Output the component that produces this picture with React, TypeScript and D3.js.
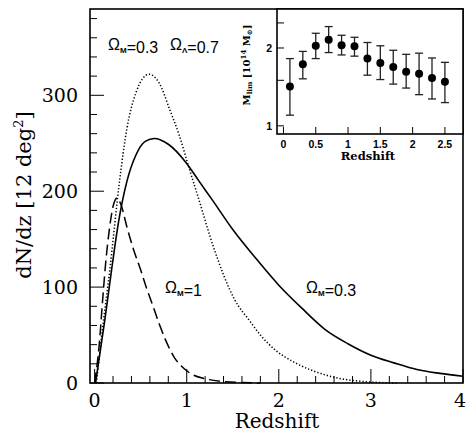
import React from "react";
import * as d3 from "d3";

// dN/dz curves: [redshift, dN/dz]
const lcdmCurve: [number, number][] = [
  [0.01, 0], [0.11, 65], [0.19, 122], [0.26, 168], [0.35, 210], [0.45, 238],
  [0.55, 252], [0.65, 255], [0.8, 249], [1.0, 229], [1.13, 211], [1.27, 192],
  [1.5, 160], [1.75, 130], [2.0, 102], [2.25, 78], [2.5, 56], [2.75, 41],
  [3.0, 29], [3.25, 21], [3.5, 14], [3.75, 10], [4.0, 7],
];
const lcdmAltCurve: [number, number][] = [
  [0.02, 0], [0.09, 60], [0.165, 118], [0.27, 210], [0.35, 265], [0.45, 303],
  [0.59, 322], [0.7, 313], [0.82, 284], [0.92, 258], [1.02, 226], [1.13, 192],
  [1.29, 142], [1.52, 87], [1.69, 64], [1.8, 50], [1.98, 33], [2.16, 22],
  [2.52, 8], [3.0, 1], [3.3, 0],
];
const scdmCurve: [number, number][] = [
  [0, 0], [0.05, 40], [0.09, 90], [0.12, 125], [0.16, 160], [0.2, 184],
  [0.245, 193], [0.29, 185], [0.35, 163], [0.42, 140], [0.5, 118], [0.56, 100],
  [0.62, 84], [0.7, 62], [0.77, 45], [0.87, 26], [0.95, 17], [1.04, 10],
  [1.22, 4], [1.4, 1.5], [1.6, 0.5], [1.8, 0],
];

const xTickLabels = [0, 1, 2, 3, 4];
const yTickLabels = [0, 100, 200, 300];

// inset: limiting mass vs redshift
const massZ = [0.1, 0.3, 0.5, 0.7, 0.9, 1.1, 1.3, 1.5, 1.7, 1.9, 2.1, 2.3, 2.5];
const massMid = [1.42, 1.73, 2.04, 2.15, 2.05, 2.03, 1.82, 1.75, 1.69, 1.62, 1.59, 1.53, 1.48];
const massHi = [1.82, 1.94, 2.28, 2.42, 2.24, 2.2, 2.1, 2.04, 1.96, 1.89, 1.91, 1.83, 1.76];
const massLo = [1.1, 1.52, 1.82, 1.92, 1.88, 1.86, 1.57, 1.51, 1.45, 1.4, 1.32, 1.27, 1.23];
const insetXTicks = [0, 0.5, 1, 1.5, 2, 2.5];
const insetYTicks = [1, 1.5, 2, 2.5];
const insetYLabels = [1, 2];

const W = 467;
const H = 436;
const serif = "'DejaVu Serif', serif";
const sans = "'Liberation Sans', Arial, sans-serif";

export default function App() {
  const x = d3.scaleLinear().domain([-0.05, 4]).range([90, 463]);
  const y = d3.scaleLinear().domain([0, 390]).range([383, 9]);

  const xi = d3.scaleLinear().domain([-0.1, 2.78]).range([277, 463]);
  const yi = d3.scaleLog().domain([0.93, 2.83]).range([134, 9]);

  const line = d3
    .line<[number, number]>()
    .x((d) => x(d[0]))
    .y((d) => y(d[1]))
    .curve(d3.curveMonotoneX);

  const xMinor = d3.range(0, 4.01, 0.2);
  const yMinor = d3.range(0, 381, 20);

  const sub = (s: string, size = 8) => (
    <>
      <tspan fontSize={size} dy={3} fontWeight="bold">{s}</tspan>
      <tspan dy={-3}></tspan>
    </>
  );

  return (
    <svg
      width={W}
      height={H}
      viewBox={`0 0 ${W} ${H}`}
      style={{ position: "absolute", left: 0, top: 0, background: "#fff" }}
    >
      <rect width={W} height={H} fill="#fff" />

      {/* curves */}
      <g fill="none" stroke="#000">
        <path d={line(lcdmCurve) || ""} strokeWidth={1.6} />
        <path d={line(lcdmAltCurve) || ""} strokeWidth={1.5} strokeDasharray="1.3,2" />
        <path d={line(scdmCurve) || ""} strokeWidth={1.5} strokeDasharray="11,5" />
      </g>

      {/* main ticks */}
      <g stroke="#000" strokeWidth={1}>
        {xMinor.map((t) => {
          const major = Math.abs(t - Math.round(t)) < 1e-6;
          return (
            <line key={"xm" + t} x1={x(t)} x2={x(t)} y1={y(0)} y2={y(0) - (major ? 14 : 7)} />
          );
        })}
        {yMinor.map((t) => {
          const major = t % 100 === 0;
          return (
            <line key={"ym" + t} x1={x.range()[0]} x2={x.range()[0] + (major ? 14 : 7)} y1={y(t)} y2={y(t)} />
          );
        })}
      </g>

      {/* main frame */}
      <rect
        x={x.range()[0]}
        y={y.range()[1]}
        width={x.range()[1] - x.range()[0]}
        height={y.range()[0] - y.range()[1]}
        fill="none"
        stroke="#000"
        strokeWidth={1.6}
      />

      {/* main tick labels */}
      <g fontFamily={serif} fontSize={19} fill="#000">
        {xTickLabels.map((t) => (
          <text key={"xl" + t} x={Math.min(x(t), 460)} y={407} textAnchor="middle">{t}</text>
        ))}
        {yTickLabels.map((t) => (
          <text key={"yl" + t} x={78} y={y(t) + 7} textAnchor="end">{t}</text>
        ))}
      </g>
      <text x={277} y={428} textAnchor="middle" fontFamily={serif} fontSize={20}>Redshift</text>
      <text
        transform="translate(31,195) rotate(-90)"
        textAnchor="middle"
        fontFamily={serif}
        fontSize={21}
      >
        dN/dz [12 deg<tspan fontSize={13} dy={-8}>2</tspan><tspan dy={8}>]</tspan>
      </text>

      {/* annotations */}
      <g fontFamily={sans} fontSize={16} fill="#000">
        <text x={108} y={50}>Ω{sub("M")}=0.3</text>
        <text x={170} y={50}>Ω{sub("Λ")}=0.7</text>
        <text x={165} y={293}>Ω{sub("M")}=1</text>
        <text x={306} y={293}>Ω{sub("M")}=0.3</text>
      </g>

      {/* inset */}
      <rect
        x={xi.range()[0]}
        y={yi.range()[1]}
        width={xi.range()[1] - xi.range()[0]}
        height={yi.range()[0] - yi.range()[1]}
        fill="#fff"
        stroke="#000"
        strokeWidth={1.6}
      />
      <g stroke="#000" strokeWidth={1}>
        {insetXTicks.map((t) => (
          <line key={"ixt" + t} x1={xi(t)} x2={xi(t)} y1={yi.range()[0]} y2={yi.range()[0] - 7} />
        ))}
        {insetYTicks.map((t) => (
          <line key={"iyt" + t} x1={xi.range()[0]} x2={xi.range()[0] + 7} y1={yi(t)} y2={yi(t)} />
        ))}
      </g>
      <g stroke="#222" strokeWidth={1.3}>
        {massZ.map((z, i) => (
          <g key={"eb" + z}>
            <line x1={xi(z)} x2={xi(z)} y1={yi(massHi[i])} y2={yi(massLo[i])} />
            <line x1={xi(z) - 4} x2={xi(z) + 4} y1={yi(massHi[i])} y2={yi(massHi[i])} />
            <line x1={xi(z) - 4} x2={xi(z) + 4} y1={yi(massLo[i])} y2={yi(massLo[i])} />
          </g>
        ))}
      </g>
      <g fill="#000">
        {massZ.map((z, i) => (
          <circle key={"pt" + z} cx={xi(z)} cy={yi(massMid[i])} r={4} />
        ))}
      </g>
      <g fontFamily={sans} fontSize={10.5} fontWeight="bold" fill="#000">
        {insetXTicks.map((t) => (
          <text key={"ixl" + t} x={xi(t)} y={148} textAnchor="middle">{t}</text>
        ))}
        {insetYLabels.map((t) => (
          <text key={"iyl" + t} x={272} y={yi(t) + 4} textAnchor="end">{t}</text>
        ))}
      </g>
      <text x={368} y={160} textAnchor="middle" fontFamily={serif} fontSize={11.5} fontWeight="bold">
        Redshift
      </text>
      <text
        transform="translate(250,65) rotate(-90)"
        textAnchor="middle"
        fontFamily={serif}
        fontSize={10}
        fontWeight="bold"
      >
        M<tspan fontSize={7} dy={2}>lim</tspan>
        <tspan dy={-2}> [10</tspan>
        <tspan fontSize={7} dy={-4}>14</tspan>
        <tspan dy={4}> M</tspan>
        <tspan fontSize={7} dy={2}>⊙</tspan>
        <tspan dy={-2}>]</tspan>
      </text>
    </svg>
  );
}
